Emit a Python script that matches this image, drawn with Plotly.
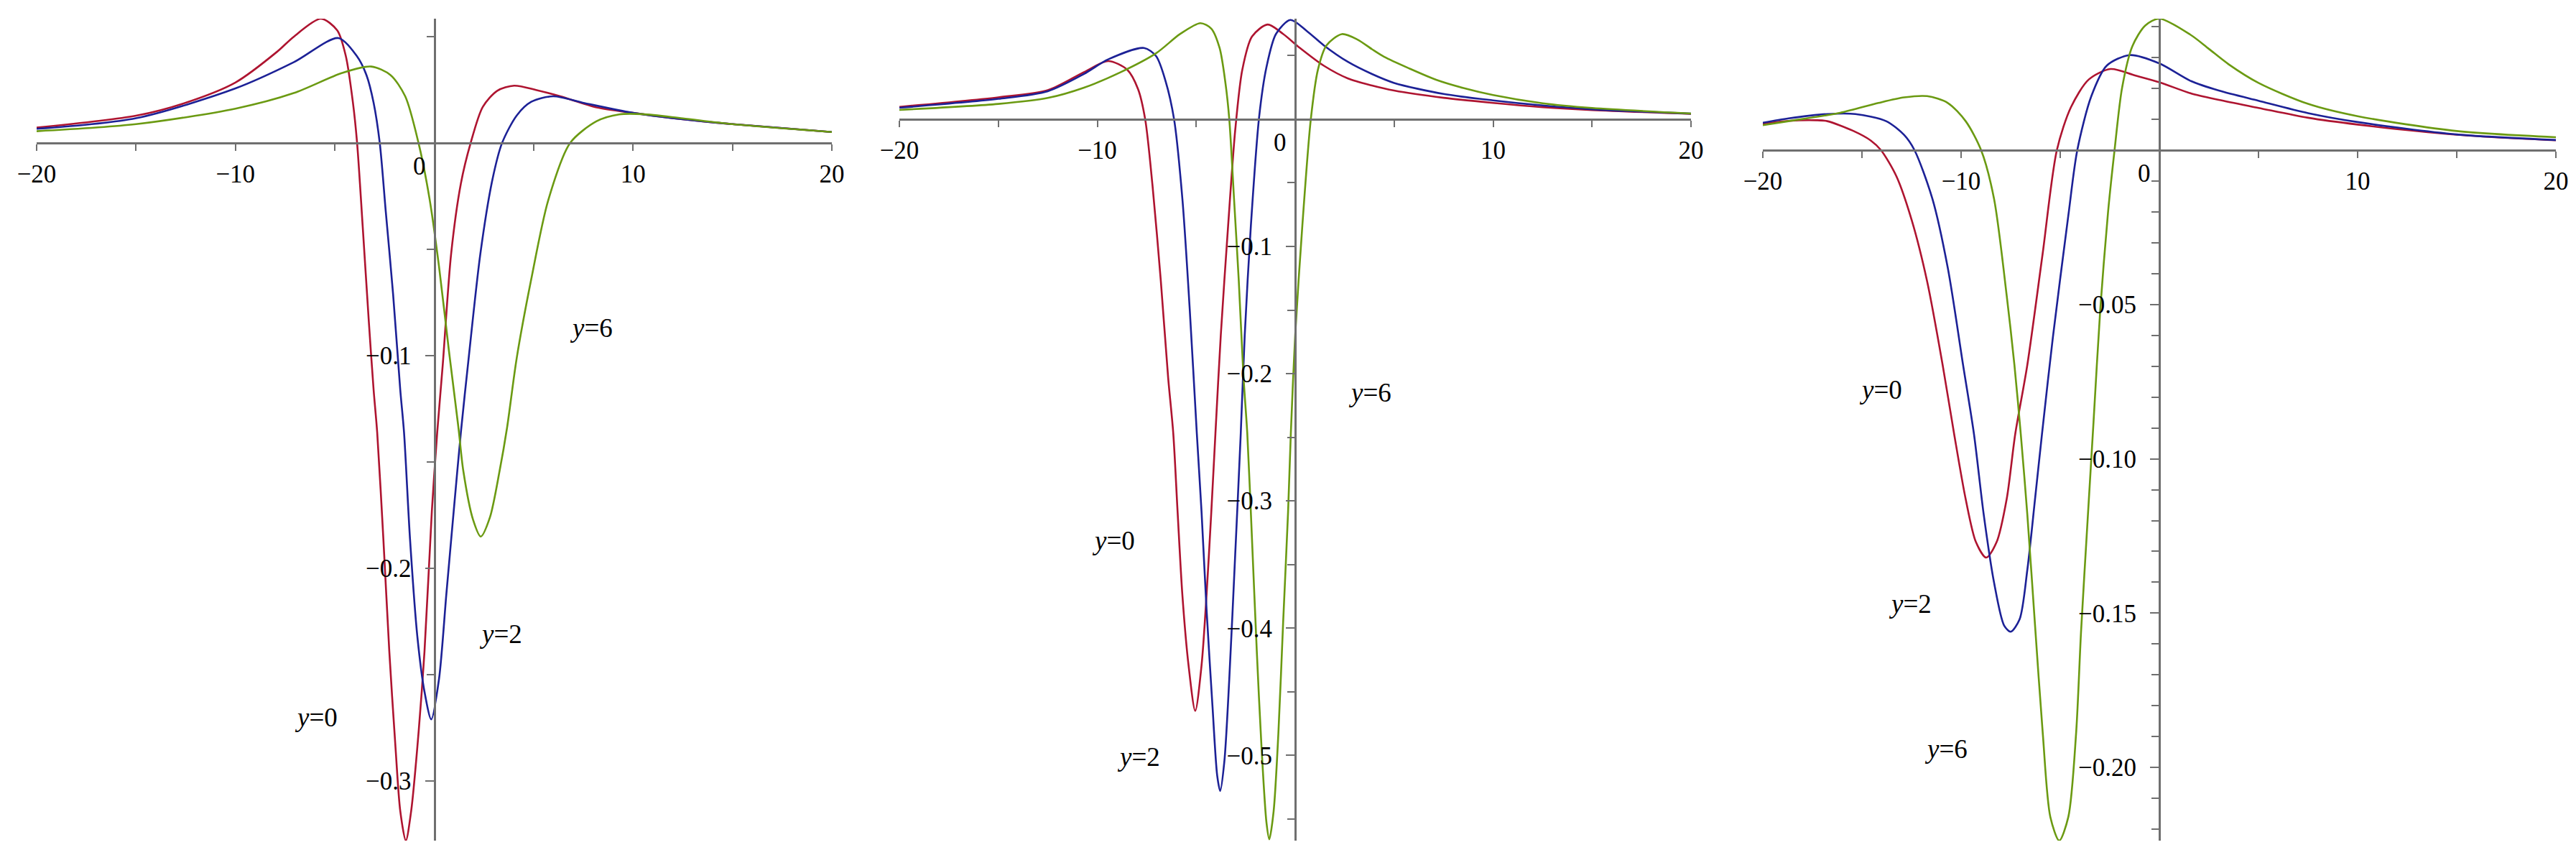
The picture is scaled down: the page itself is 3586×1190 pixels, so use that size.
import plotly.graph_objects as go

# ---- values (x from -20 to 20) ----
curve_names = ["y=0", "y=2", "y=6"]

# left panel
p1_red_x = [-20, -15, -12.5, -10, -7.9, -7.07, -5.7, -4.88, -4.45, -4.09, -3.88, -3.6, -3.29, -3.05, -2.87,
            -2.56, -2.26, -1.95, -1.71, -1.43, -1.16, -0.85, -0.49, -0.12, 0.15, 0.43, 0.85, 1.34, 1.83,
            2.44, 3.17, 4.02, 5.12, 6.34, 8.17, 10, 12.5, 15, 20]
p1_red_y = [0.0073, 0.0129, 0.019, 0.0285, 0.043, 0.050, 0.0585, 0.053, 0.041, 0.019, 0, -0.039, -0.084,
            -0.116, -0.136, -0.186, -0.239, -0.284, -0.314, -0.328, -0.314, -0.284, -0.239, -0.173, -0.136,
            -0.104, -0.052, -0.019, 0, 0.017, 0.0246, 0.027, 0.025, 0.022, 0.0168, 0.0142, 0.0112, 0.0089, 0.0052]
p1_blue_x = [-20, -15, -10, -7.07, -4.82, -3.9, -3.41, -3.05, -2.74, -2.44, -2.07, -1.71, -1.52, -1.22, -0.85,
             -0.49, -0.15, 0.24, 0.61, 0.98, 1.34, 1.71, 2.32, 2.93, 3.41, 4.15, 4.88, 5.98, 7.56, 10, 12.5, 15, 20]
p1_blue_y = [0.0067, 0.0117, 0.0257, 0.038, 0.0494, 0.041, 0.032, 0.019, 0, -0.032, -0.071, -0.116, -0.136,
             -0.186, -0.232, -0.258, -0.271, -0.252, -0.212, -0.173, -0.136, -0.103, -0.052, -0.017, 0, 0.013,
             0.0194, 0.022, 0.0188, 0.0142, 0.0112, 0.0089, 0.0052]
p1_green_x = [-20, -15, -10, -7.07, -4.63, -3.17, -2.2, -1.46, -0.79, -0.24, 0.24, 0.73, 1.22, 1.46, 1.95, 2.34,
              2.8, 3.29, 3.66, 4.15, 4.88, 5.73, 6.83, 8.17, 9.3, 10.5, 12.5, 15, 20]
p1_green_y = [0.0056, 0.0089, 0.0162, 0.0235, 0.033, 0.036, 0.032, 0.022, 0, -0.026, -0.058, -0.097, -0.134,
              -0.154, -0.177, -0.185, -0.176, -0.154, -0.134, -0.101, -0.064, -0.027, 0, 0.0103, 0.0135, 0.0136,
              0.0116, 0.0089, 0.0052]

# middle panel
p2_red_x = [-20, -15, -12.5, -10.67, -9.45, -8.48, -7.94, -7.58, -7.21, -6.79, -6.42, -6.16, -5.94, -5.7, -5.39,
            -5.05, -4.73, -4.48, -4.24, -4.03, -3.76, -3.39, -3.03, -2.67, -2.18, -1.39, -0.61, 0.24, 1.45, 2.67,
            3.88, 5, 7.5, 10, 12.5, 15, 20]
p2_red_y = [0.0097, 0.0172, 0.0228, 0.037, 0.0457, 0.0388, 0.0237, 0, -0.052, -0.127, -0.203, -0.247, -0.309,
            -0.374, -0.429, -0.465, -0.429, -0.374, -0.309, -0.247, -0.17, -0.084, -0.0086, 0.039, 0.065, 0.0744,
            0.067, 0.056, 0.042, 0.032, 0.0265, 0.0225, 0.0168, 0.0128, 0.0095, 0.0072, 0.0042]
p2_blue_x = [-20, -15, -12.5, -10.67, -9.45, -7.64, -7.03, -6.55, -6.12, -5.7, -5.33, -4.97, -4.73, -4.48, -4.18,
             -3.94, -3.79, -3.58, -3.33, -3.03, -2.75, -2.55, -2.24, -1.82, -1.45, -0.97, -0.24, 0.61, 1.45, 2.67,
             3.88, 5, 7.5, 10, 12.5, 15, 20]
p2_blue_y = [0.009, 0.016, 0.022, 0.0356, 0.047, 0.056, 0.0496, 0.03, 0, -0.0626, -0.149, -0.247, -0.309, -0.385,
             -0.461, -0.516, -0.528, -0.505, -0.44, -0.342, -0.247, -0.17, -0.084, 0.002, 0.041, 0.067, 0.078,
             0.069, 0.058, 0.045, 0.0355, 0.0285, 0.0198, 0.0148, 0.0108, 0.0078, 0.0044]
p2_green_x = [-20, -15, -12.5, -10.67, -8.85, -7.03, -5.82, -4.79, -4.24, -3.82, -3.52, -3.33, -3.09, -2.85, -2.61,
              -2.42, -2.18, -1.94, -1.7, -1.45, -1.31, -1.09, -0.85, -0.61, -0.36, -0.22, 0, 0.36, 0.79, 1.15, 1.58,
              2.36, 3.15, 3.88, 4.5, 5.75, 7.12, 8.5, 10, 12.5, 15, 20]
p2_green_y = [0.0073, 0.012, 0.0167, 0.0248, 0.0367, 0.0518, 0.0669, 0.0755, 0.0712, 0.056, 0.028, 0, -0.0626,
              -0.127, -0.203, -0.247, -0.331, -0.418, -0.494, -0.553, -0.566, -0.544, -0.483, -0.396, -0.309, -0.247,
              -0.17, -0.084, 0, 0.039, 0.058, 0.0669, 0.0626, 0.055, 0.049, 0.040, 0.031, 0.0245, 0.019, 0.0125,
              0.0088, 0.0045]

# right panel
p3_red_x = [-20, -18.7, -17.3, -16.75, -15.46, -14.55, -14.04, -13.26, -12.48, -11.71, -10.93, -10.35, -9.77,
            -9.25, -8.73, -8.21, -7.7, -7.27, -6.66, -5.89, -5.17, -4.46, -3.56, -2.46, -1.23, 0, 1.59, 3, 5, 7.5,
            10, 15, 20]
p3_red_y = [0.0086, 0.0095, 0.0097, 0.0094, 0.0063, 0.0031, 0, -0.0085, -0.0229, -0.0426, -0.0696, -0.092, -0.113,
            -0.127, -0.132, -0.127, -0.113, -0.092, -0.0696, -0.0337, 0, 0.0139, 0.0229, 0.0263, 0.0242, 0.022,
            0.0184, 0.0163, 0.0137, 0.0105, 0.0083, 0.005, 0.0032]
p3_blue_x = [-20, -18.7, -16.75, -15.33, -13.78, -12.87, -12.35, -11.45, -10.67, -9.9, -9.35, -8.86, -8.34, -7.83,
             -7.5, -7.05, -6.66, -6.27, -5.92, -5.37, -4.59, -4.14, -3.43, -2.65, -1.49, 0, 1.59, 3, 5, 7.5, 10, 15,
             20]
p3_blue_y = [0.0089, 0.0103, 0.0117, 0.0117, 0.0094, 0.0049, 0, -0.0157, -0.0382, -0.0696, -0.092, -0.118, -0.14,
             -0.154, -0.156, -0.152, -0.136, -0.113, -0.092, -0.0606, -0.0211, 0, 0.0175, 0.0274, 0.0308, 0.0281,
             0.0224, 0.0193, 0.016, 0.012, 0.0091, 0.0051, 0.0033]
p3_green_x = [-20, -18.7, -16.1, -14.17, -12.87, -11.71, -10.67, -9.77, -8.99, -8.34, -7.7, -7.31, -6.99, -6.66,
              -6.27, -5.88, -5.5, -5.05, -4.59, -4.2, -3.95, -3.62, -3.32, -2.98, -2.59, -2.26, -1.88, -1.36, -0.71,
              0, 1.59, 2.5, 3.5, 5, 7.5, 10, 15, 20]
p3_green_y = [0.0081, 0.0094, 0.0121, 0.0153, 0.0171, 0.0175, 0.0153, 0.0094, 0, -0.0157, -0.0471, -0.0696, -0.092,
              -0.118, -0.154, -0.189, -0.216, -0.2237, -0.216, -0.189, -0.156, -0.12, -0.088, -0.0516, -0.0202, 0,
              0.0202, 0.0337, 0.0404, 0.0426, 0.0373, 0.0328, 0.0278, 0.0218, 0.015, 0.011, 0.0062, 0.0042]

# axis ticks
x_tick_vals = [-20, -10, 0, 10, 20]
x_tick_text = ["\u221220", "\u221210", "", "10", "20"]
x_minor_vals = [-15, -5, 5, 15]

p1_ytick_vals = [-0.3, -0.2, -0.1]
p1_ytick_text = ["\u22120.3", "\u22120.2", "\u22120.1"]
p1_yminor_vals = [0.05, -0.05, -0.15, -0.25]

p2_ytick_vals = [-0.5, -0.4, -0.3, -0.2, -0.1]
p2_ytick_text = ["\u22120.5", "\u22120.4", "\u22120.3", "\u22120.2", "\u22120.1"]
p2_yminor_vals = [0.05, -0.05, -0.15, -0.25, -0.35, -0.45, -0.55]

p3_ytick_vals = [-0.20, -0.15, -0.10, -0.05]
p3_ytick_text = ["\u22120.20", "\u22120.15", "\u22120.10", "\u22120.05"]
p3_yminor_vals = [0.04, 0.03, 0.02, 0.01, -0.01, -0.02, -0.03, -0.04, -0.06, -0.07, -0.08, -0.09, -0.11, -0.12,
                  -0.13, -0.14, -0.16, -0.17, -0.18, -0.19, -0.21, -0.22]

colors = ["#AE1430", "#1C2196", "#6B9A12"]
axis_grey = "#6F6F6F"
serif = "Liberation Serif, Times New Roman, serif"

panels = [
    dict(curves=[(p1_red_x, p1_red_y), (p1_blue_x, p1_blue_y), (p1_green_x, p1_green_y)],
         yrange=[-0.328, 0.0585], xdom=[43 / 3586, 1150 / 3586],
         yt=(p1_ytick_vals, p1_ytick_text, p1_yminor_vals),
         lab=[(-5.94, -0.270), (3.33, -0.231), (7.9, -0.087)]),
    dict(curves=[(p2_red_x, p2_red_y), (p2_blue_x, p2_blue_y), (p2_green_x, p2_green_y)],
         yrange=[-0.567, 0.079], xdom=[1244 / 3586, 2346 / 3586],
         yt=(p2_ytick_vals, p2_ytick_text, p2_yminor_vals),
         lab=[(-9.18, -0.331), (-7.91, -0.501), (3.77, -0.215)]),
    dict(curves=[(p3_red_x, p3_red_y), (p3_blue_x, p3_blue_y), (p3_green_x, p3_green_y)],
         yrange=[-0.2237, 0.0426], xdom=[2446 / 3586, 3550 / 3586],
         yt=(p3_ytick_vals, p3_ytick_text, p3_yminor_vals),
         lab=[(-14.06, -0.0776), (-12.57, -0.147), (-10.76, -0.194)]),
]

ydom = [1 - 1162 / 1190, 1 - 18 / 1190]

fig = go.Figure()
annotations = []
layout_axes = {}

for i, p in enumerate(panels):
    n = "" if i == 0 else str(i + 1)
    xa, ya = "x" + n, "y" + n
    for (cx, cy), col, name in zip(p["curves"], colors, curve_names):
        fig.add_trace(go.Scatter(x=cx, y=cy, mode="lines", name=name, xaxis=xa, yaxis=ya,
                                 line=dict(color=col, width=2.6, shape="spline", smoothing=0.8),
                                 showlegend=False))

    y0, y1 = p["yrange"]
    # where y=0 and x=0 sit on the page, so the axes cross at the origin like in Maple
    xpos = ydom[0] + (0 - y0) / (y1 - y0) * (ydom[1] - ydom[0])
    ypos = p["xdom"][0] + 0.5 * (p["xdom"][1] - p["xdom"][0])

    tv, tt, mv = p["yt"]
    layout_axes["xaxis" + n] = dict(
        domain=p["xdom"], range=[-20, 20], anchor="free", position=xpos, automargin=False,
        showline=True, linecolor=axis_grey, linewidth=3, showgrid=False, zeroline=False,
        tickmode="array", tickvals=x_tick_vals, ticktext=x_tick_text,
        ticks="outside", ticklen=9, tickwidth=2, tickcolor=axis_grey, ticklabelstandoff=2,
        tickfont=dict(family=serif, size=35, color="black"),
        minor=dict(tickmode="array", tickvals=x_minor_vals, ticks="outside", ticklen=9,
                   tickwidth=2, tickcolor=axis_grey),
        fixedrange=True)
    layout_axes["yaxis" + n] = dict(
        domain=ydom, range=[y0, y1], anchor="free", position=ypos, automargin=False,
        showline=True, linecolor=axis_grey, linewidth=3, showgrid=False, zeroline=False,
        tickmode="array", tickvals=tv, ticktext=tt,
        ticks="outside", ticklen=12, tickwidth=2, tickcolor=axis_grey, ticklabelstandoff=12,
        tickfont=dict(family=serif, size=35, color="black"),
        minor=dict(tickmode="array", tickvals=mv, ticks="outside", ticklen=10,
                   tickwidth=2, tickcolor=axis_grey),
        fixedrange=True)

    # the "0" on the x axis sits just left of the vertical axis
    annotations.append(dict(x=0, y=0, xref=xa, yref=ya, text="0", showarrow=False,
                            xanchor="right", yanchor="top", xshift=-10, yshift=-11,
                            font=dict(family=serif, size=35, color="black")))
    for (lx, ly), name in zip(p["lab"], curve_names):
        annotations.append(dict(x=lx, y=ly, xref=xa, yref=ya, showarrow=False,
                                text="<i>y</i>=" + name.split("=")[1],
                                font=dict(family=serif, size=37, color="black")))

fig.update_layout(
    width=3586, height=1190,
    margin=dict(l=0, r=0, t=0, b=0, autoexpand=False),
    paper_bgcolor="white", plot_bgcolor="white",
    showlegend=False,
    annotations=annotations,
    **layout_axes,
)

fig.write_html("out.html")
